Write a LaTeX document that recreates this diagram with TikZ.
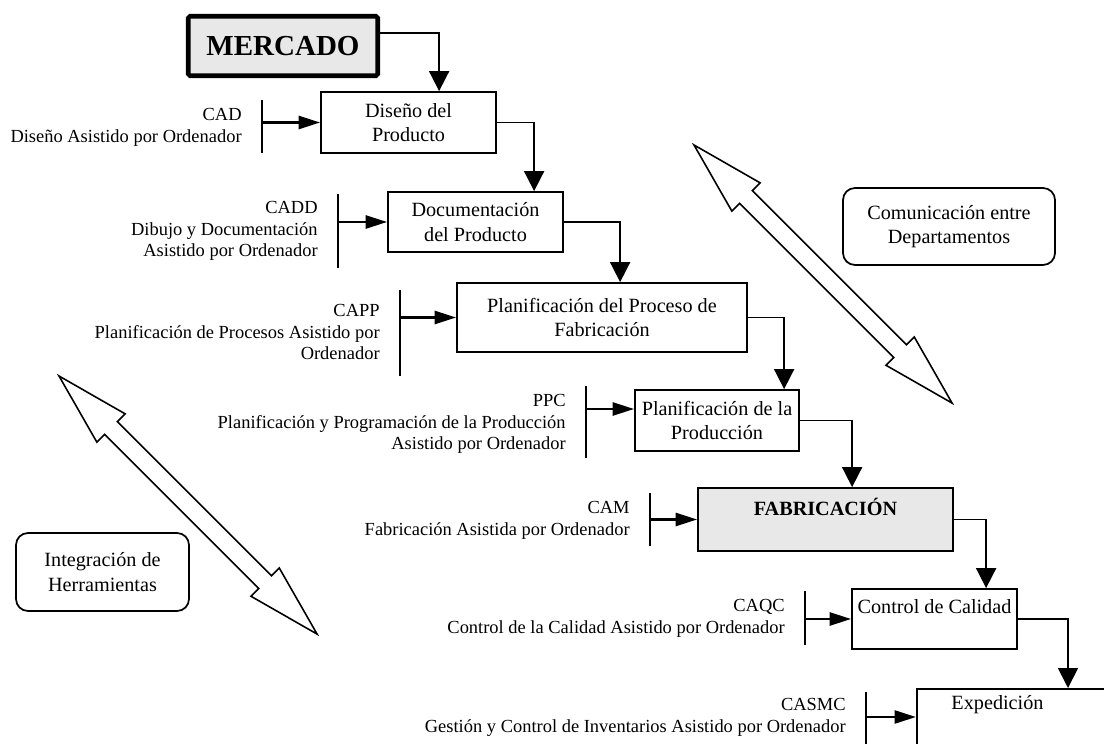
\documentclass[tikz,border=0pt]{standalone}
\usepackage{fontspec}
\setmainfont{Liberation Serif}
\usetikzlibrary{arrows.meta,positioning}
\begin{document}
\begin{tikzpicture}[every node/.style={font=\fontsize{11.5}{14}\selectfont},
  box/.style={draw,line width=1pt,align=center,inner sep=0pt},
  soft/.style={draw,line width=1pt,rounded corners=0.24cm,align=center,inner sep=0pt},
  tool/.style={align=right,inner sep=0pt,font=\fontsize{10.5}{12.4}\selectfont},
  bar/.style={line width=1.5pt},
  feed/.style={line width=1.5pt,-{Triangle[length=0.43cm,width=0.26cm]}},
  flow/.style={line width=1pt,-{Triangle[length=0.4cm,width=0.4cm]}},
  wide/.style={draw,line width=0.9pt,fill=white}]
  \useasboundingbox (0,0) rectangle (22.08,14.86);
  \clip (0,0) rectangle (22.08,14.86);

  \node[box,line width=2.6pt,rounded corners=1pt,fill=black!9,minimum width=3.79cm,minimum height=1.19cm,font=\fontsize{16.5}{19}\selectfont\bfseries] (mercado) at (5.66,13.94) {MERCADO};
  \node[box,minimum width=3.5cm,minimum height=1.22cm] (diseno) at (8.17,12.41) {Diseño del\\Producto};
  \node[box,minimum width=3.5cm,minimum height=1.2cm] (docu) at (9.51,10.42) {Documentación\\del Producto};
  \node[box,minimum width=5.8cm,minimum height=1.38cm] (proceso) at (12.04,8.51) {Planificación del Proceso de\\Fabricación};
  \node[box,minimum width=3.28cm,minimum height=1.22cm] (produccion) at (14.34,6.45) {Planificación de la\\Producción};
  \node[box,fill=black!9,minimum width=5.1cm,minimum height=1.26cm] (fabricacion) at (16.51,4.47) {\textbf{FABRICACIÓN}\\\mbox{}};
  \node[box,minimum width=3.3cm,minimum height=1.2cm] (calidad) at (18.69,2.48) {Control de Calidad\\\mbox{}};
  \node[box,minimum width=4.4cm,minimum height=1.2cm,anchor=north west] (expedicion) at (18.32,1.1) {};
  \node (expediciontxt) at (19.95,0.76) {Expedición};

  \node[soft,minimum width=4.24cm,minimum height=1.54cm] (comunicacion) at (18.98,10.33) {Comunicación entre\\Departamentos};
  \node[soft,minimum width=3.46cm,minimum height=1.56cm] (integracion) at (2.05,3.42) {Integración de\\Herramientas};

  \draw[flow] ([yshift=0.26cm]mercado.east) -| ([xshift=2.38cm]diseno.north west);
  \draw[flow] (diseno.east) -| ([xshift=2.94cm]docu.north west);
  \draw[flow] (docu.east) -| ([xshift=3.28cm]proceso.north west);
  \draw[flow] (proceso.east) -| ([xshift=3cm]produccion.north west);
  \draw[flow] (produccion.east) -| ([xshift=3.1cm]fabricacion.north west);
  \draw[flow] (fabricacion.east) -| ([xshift=2.7cm]calidad.north west);
  \draw[flow] (calidad.east) -| ([xshift=3.04cm]expedicion.north west);

  \coordinate (cad) at (5.24,12.32);
  \node[tool,left=0.4cm of cad] (cadtxt) {CAD\\Diseño Asistido por Ordenador};
  \draw[bar] ([yshift=0.53cm]cad) -- ([yshift=-0.53cm]cad);
  \draw[feed] (cad |- diseno.west) -- (diseno.west);

  \coordinate (cadd) at (6.76,10.24);
  \node[tool,left=0.4cm of cadd] (caddtxt) {CADD\\Dibujo y Documentación\\Asistido por Ordenador};
  \draw[bar] ([yshift=0.74cm]cadd) -- ([yshift=-0.74cm]cadd);
  \draw[feed] (cadd |- docu.west) -- (docu.west);

  \coordinate (capp) at (8,8.22);
  \node[tool,left=0.4cm of capp] (capptxt) {CAPP\\Planificación de Procesos Asistido por\\Ordenador};
  \draw[bar] ([yshift=0.84cm]capp) -- ([yshift=-0.88cm]capp);
  \draw[feed] (capp |- proceso.west) -- (proceso.west);

  \coordinate (ppc) at (11.72,6.38);
  \node[tool,left=0.4cm of ppc] (ppctxt) {PPC\\Planificación y Programación de la Producción\\Asistido por Ordenador};
  \draw[bar] ([yshift=0.76cm]ppc) -- ([yshift=-0.68cm]ppc);
  \draw[feed] (ppc |- 0,6.68) -- (produccion.west |- 0,6.68);

  \coordinate (cam) at (13,4.46);
  \node[tool,left=0.4cm of cam] (camtxt) {CAM\\Fabricación Asistida por Ordenador};
  \draw[bar] ([yshift=0.53cm]cam) -- ([yshift=-0.53cm]cam);
  \draw[feed] (cam |- fabricacion.west) -- (fabricacion.west);

  \coordinate (caqc) at (16.1,2.5);
  \node[tool,left=0.4cm of caqc] (caqctxt) {CAQC\\Control de la Calidad Asistido por Ordenador};
  \draw[bar] ([yshift=0.54cm]caqc) -- ([yshift=-0.54cm]caqc);
  \draw[feed] (caqc |- calidad.west) -- (calidad.west);

  \coordinate (casmc) at (17.32,0.52);
  \node[tool,left=0.4cm of casmc] (casmctxt) {CASMC\\Gestión y Control de Inventarios Asistido por Ordenador};
  \draw[bar] ([yshift=0.5cm]casmc) -- ([yshift=-0.6cm]casmc);
  \draw[feed] (casmc) -- (casmc -| expedicion.west);

  \begin{scope}[shift={(13.88,11.96)},rotate=-45]
    \draw[wide] (0,0) -- (1.47,0.4) -- (1.47,0.18) -- (5.83,0.18) -- (5.83,0.4) -- (7.3,0) -- (5.83,-0.4) -- (5.83,-0.18) -- (1.47,-0.18) -- (1.47,-0.4) -- cycle;
  \end{scope}
  \begin{scope}[shift={(1.18,7.34)},rotate=-45]
    \draw[wide] (0,0) -- (1.47,0.4) -- (1.47,0.18) -- (5.83,0.18) -- (5.83,0.4) -- (7.3,0) -- (5.83,-0.4) -- (5.83,-0.18) -- (1.47,-0.18) -- (1.47,-0.4) -- cycle;
  \end{scope}
\end{tikzpicture}
\end{document}
